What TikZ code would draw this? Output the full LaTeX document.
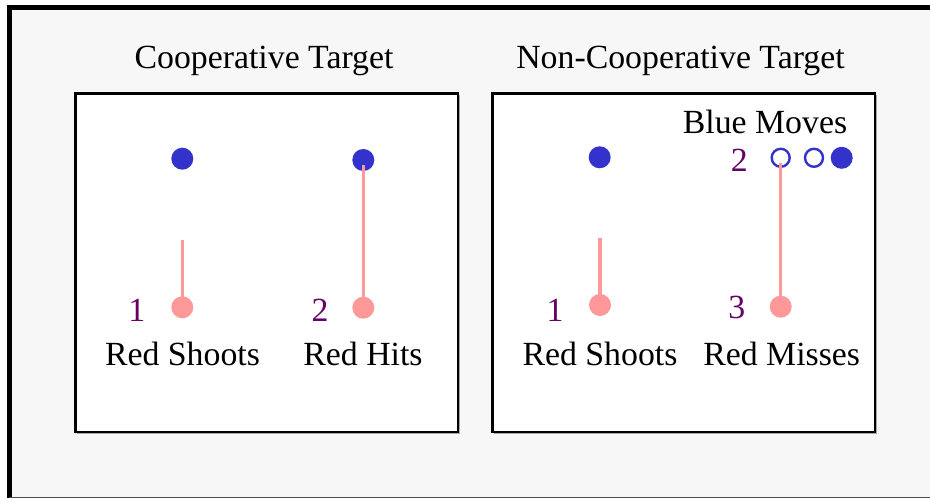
\documentclass[tikz,border=0pt]{standalone}
\usepackage{fontspec}
\setmainfont{Liberation Serif}
\definecolor{bgray}{HTML}{F7F7F7}
\definecolor{dotblue}{HTML}{3333CC}
\definecolor{shotpink}{HTML}{FF9999}
\definecolor{steppurple}{HTML}{660066}
\begin{document}
\begin{tikzpicture}[x=1pt,y=-1pt,
  every node/.style={inner sep=0pt,outer sep=0pt},
  lbl/.style={font=\fontsize{33.8}{38}\selectfont,anchor=base,text=black},
  num/.style={font=\fontsize{33.8}{38}\selectfont,anchor=base,text=steppurple},
  panel/.style={draw=black,line width=2.6pt,fill=white},
  panelshadow/.style={draw=black!35,line width=1.5pt},
  bluedot/.style={circle,fill=dotblue,minimum size=22pt},
  ghost/.style={circle,draw=dotblue,line width=2.4pt,fill=white,minimum size=18pt},
  reddot/.style={circle,fill=shotpink,minimum size=22pt},
  shot/.style={draw=shotpink,line width=3.5pt}]
\useasboundingbox (0,0) rectangle (930,498);
\clip (0,0) rectangle (930,498);
% outer frame
\fill[bgray] (9,7) rectangle (930,498);
\draw[black,line width=5pt] (9,500) -- (9,7) -- (932,7);
\draw[black!70,line width=1.2pt] (9,497.4) -- (930,497.4);

% panels
\draw[panelshadow] (77,433.5) -- (459.5,433.5) -- (459.5,95);
\draw[panel] (75.5,93.5) rectangle (458,432);
\draw[panelshadow] (494,433.5) -- (876.5,433.5) -- (876.5,95);
\draw[panel] (492.5,93.5) rectangle (875,432);

% titles
\node[lbl] (t1) at (264,68) {Cooperative Target};
\node[lbl] (t2) at (680.5,68) {Non-Cooperative Target};

% cooperative target
\node[bluedot] (b1) at (182.3,158.7) {};
\node[bluedot] (b2) at (363.3,160) {};
\coordinate (s1) at (182.3,240);
\coordinate (s2) at (363.3,165);
\node[reddot] (r1) at (182.3,307.3) {};
\node[reddot] (r2) at (363.3,307.7) {};
\draw[shot] (s1) -- (r1.center);
\draw[shot] (s2) -- (r2.center);
\node[num] (n1) at (136.7,321.7) {1};
\node[num] (n2) at (320,321.7) {2};
\node[lbl] (l1) at (182.5,365) {Red Shoots};
\node[lbl] (l2) at (363,365) {Red Hits};

% non-cooperative target
\node[bluedot] (b3) at (599.7,157.3) {};
\node[ghost] (g1) at (780.7,157.8) {};
\node[ghost] (g2) at (814,157.8) {};
\node[bluedot] (b4) at (841.7,157.8) {};
\coordinate (s3) at (600,238);
\coordinate (s4) at (780.7,163);
\node[reddot] (r3) at (600,305) {};
\node[reddot] (r4) at (780.7,306.7) {};
\draw[shot] (s3) -- (r3.center);
\draw[shot] (s4) -- (r4.center);
\node[num] (n3) at (555,321.7) {1};
\node[num] (n4) at (736.7,318.3) {3};
\node[num] (n5) at (739.3,171.7) {2};
\node[lbl] (l3) at (765,133) {Blue Moves};
\node[lbl] (l4) at (600,365) {Red Shoots};
\node[lbl] (l5) at (781.7,365) {Red Misses};
\end{tikzpicture}
\end{document}
